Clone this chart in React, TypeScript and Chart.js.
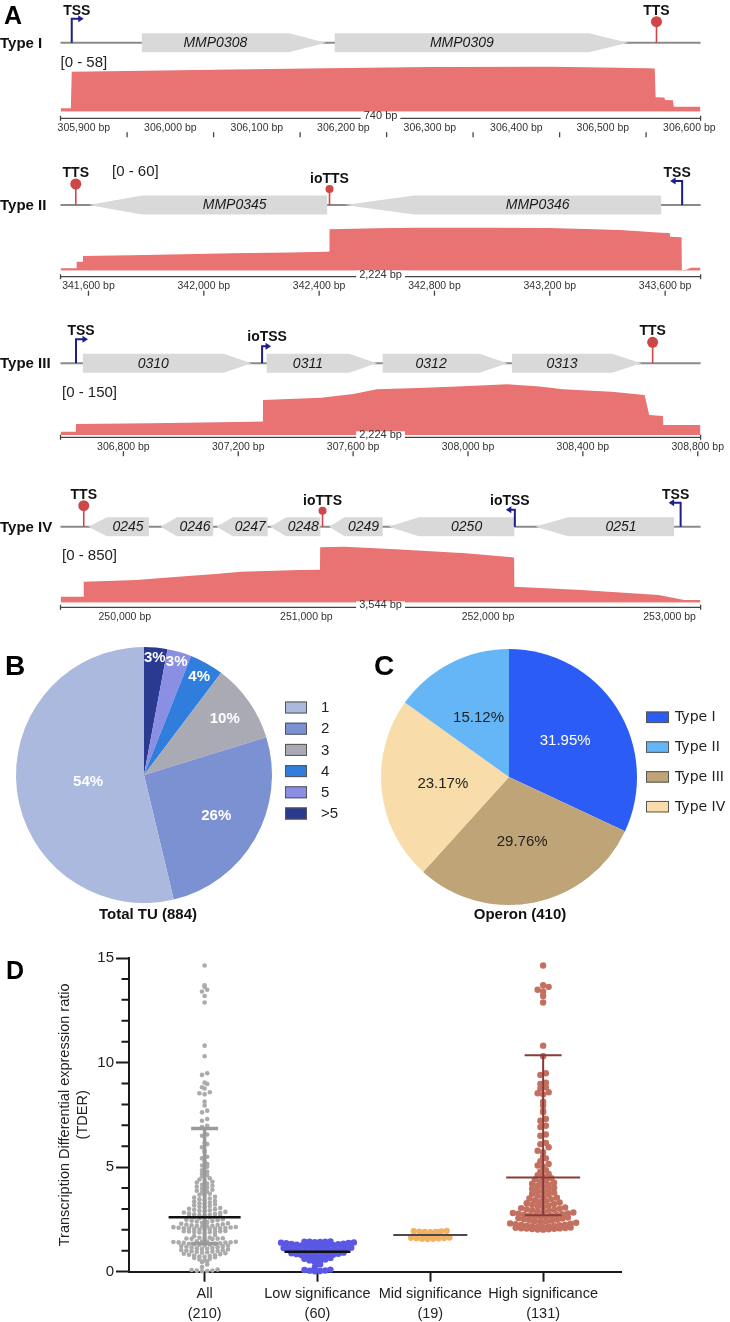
import React, { useEffect, useRef } from "react";
import { Chart, registerables } from "chart.js";

Chart.register(...registerables);

const SANS = "'Liberation Sans', Arial, Helvetica, sans-serif";
const WIDE = "'DejaVu Sans', Verdana, sans-serif";

// ================= Panel A: genome tracks =================
// Type I
const t1Window = [305873, 306613];
const t1DataMax = 58;
const t1CovPos = [305873, 305885, 305886, 305950, 306050, 306180, 306300, 306440, 306500, 306551, 306560, 306561, 306571, 306572, 306581, 306582, 306613];
const t1CovVal = [4, 4, 46.7, 47.4, 49.0, 50.6, 52.3, 52.5, 51.6, 50.6, 50.4, 16.8, 16.5, 13.7, 13.5, 5.8, 5.8];
const t1GeneNames = ["MMP0308", "MMP0309"];
const t1GeneStart = [305967, 306190];
const t1GeneEnd = [306180, 306529];
const t1GeneHead = [43, 45];
const t1GeneStrand = [1, 1];
const t1SiteNames = ["TSS", "TTS"];
const t1SitePos = [305886, 306562];
const t1SiteDir = [1, 1];
const t1RulerLabels = [305900, 306000, 306100, 306200, 306300, 306400, 306500, 306600];
const t1RulerTicks = [305950, 306050, 306150, 306250, 306350, 306450, 306550];
const t1Span = "740 bp";

// Type II
const t2Window = [341503, 343723];
const t2DataMax = 60;
const t2CovPos = [341503, 341558, 341559, 341580, 341581, 341800, 342101, 342300, 342424, 342435, 342436, 342600, 342730, 343000, 343198, 343444, 343586, 343616, 343617, 343657, 343658, 343670, 343690, 343723];
const t2CovVal = [2.8, 2.8, 10.6, 10.6, 17.4, 18.5, 20.6, 21.5, 22.5, 22.6, 49.0, 50.3, 50.9, 50.9, 50.5, 48.2, 45.0, 44.5, 40.2, 39.5, 0.8, 0.8, 3.5, 3.5];
const t2GeneNames = ["MMP0345", "MMP0346"];
const t2GeneStart = [341600, 342488];
const t2GeneEnd = [342428, 343586];
const t2GeneHead = [186, 242];
const t2GeneStrand = [-1, -1];
const t2SiteNames = ["TTS", "ioTTS", "TSS"];
const t2SitePos = [341556, 342436, 343659];
const t2SiteDir = [1, 1, -1];
const t2RulerLabels = [341600, 342000, 342400, 342800, 343200, 343600];
const t2RulerTicks = [341600, 342000, 342400, 342800, 343200, 343600];
const t2Span = "2,224 bp";

// Type III
const t3Window = [306581, 308810];
const t3DataMax = 150;
const t3CovPos = [306581, 306634, 306635, 306900, 307246, 307285, 307286, 307400, 307488, 307600, 307683, 307850, 308005, 308136, 308250, 308330, 308500, 308615, 308631, 308679, 308680, 308810];
const t3CovVal = [9, 9, 30, 32, 36.3, 36.5, 95.5, 99, 101.7, 112, 124.6, 129, 133.6, 138.3, 132, 124.6, 118, 109, 54.5, 52, 27.3, 27.3];
const t3GeneNames = ["0310", "0311", "0312", "0313"];
const t3GeneStart = [306659, 307299, 307703, 308153];
const t3GeneEnd = [307246, 307683, 308137, 308604];
const t3GeneHead = [97, 97, 97, 102];
const t3GeneStrand = [1, 1, 1, 1];
const t3SiteNames = ["TSS", "ioTSS", "TTS"];
const t3SitePos = [306635, 307283, 308643];
const t3SiteDir = [1, 1, 1];
const t3RulerLabels = [306800, 307200, 307600, 308000, 308400, 308800];
const t3RulerTicks = [306800, 307200, 307600, 308000, 308400, 308800];
const t3Span = "2,224 bp";

// Type IV
const t4Window = [249646, 253171];
const t4DataMax = 850;
const t4CovPos = [249646, 249773, 249774, 250064, 250294, 250500, 250640, 250958, 251075, 251076, 251210, 251490, 251877, 252133, 252144, 252145, 252515, 252940, 253080, 253171];
const t4CovVal = [81, 81, 285, 308, 352, 389, 420, 443, 445, 751, 759, 724, 670, 615, 610, 217, 172, 104, 37, 37];
const t4GeneNames = ["0245", "0246", "0247", "0248", "0249", "0250", "0251"];
const t4GeneStart = [249800, 250197, 250505, 250800, 251126, 251453, 252261];
const t4GeneEnd = [250133, 250487, 250787, 251077, 251420, 252145, 253025];
const t4GeneHead = [102, 90, 90, 89, 84, 167, 180];
const t4GeneStrand = [-1, -1, -1, -1, -1, -1, -1];
const t4SiteNames = ["TTS", "ioTTS", "ioTSS", "TSS"];
const t4SitePos = [249774, 251089, 252148, 253061];
const t4SiteDir = [1, 1, -1, -1];
const t4RulerLabels = [250000, 251000, 252000, 253000];
const t4RulerTicks: number[] = [];
const t4Span = "3,544 bp";

const trackTitles = ["Type I", "Type II", "Type III", "Type IV"];

// ================= Panel B =================
const tuLabels = ["1", "2", "3", "4", "5", ">5"];
const tuCounts = [475, 230, 88, 38, 27, 26];
const tuTitle = "Total TU (884)";

// ================= Panel C =================
const opLabels = ["Type I", "Type II", "Type III", "Type IV"];
const opCounts = [131, 62, 122, 95];
const opDrawOrder = [0, 2, 3, 1];
const opTitle = "Operon (410)";

// ================= Panel D =================
const groupNames = ["All", "Low significance", "Mid significance", "High significance"];
const groupCounts = [210, 60, 19, 131];
const lowValues = [
  1.40, 1.41, 1.42, 1.43, 1.44, 1.44, 1.45,
  1.17, 1.19, 1.21, 1.23, 1.24, 1.26, 1.28, 1.29, 1.31, 1.33, 1.34, 1.36, 1.38, 1.39,
  0.93, 0.95, 0.96, 0.98, 0.99, 1.01, 1.03, 1.04, 1.06, 1.08, 1.10, 1.12, 1.13, 1.15,
  0.69, 0.71, 0.73, 0.75, 0.77, 0.79, 0.81, 0.84, 0.86, 0.88, 0.91,
  0.46, 0.50, 0.54, 0.58, 0.62, 0.66,
  0.22, 0.35,
  0.02, 0.03, 0.05, 0.06, 0.08, 0.10,
];
const midValues = [1.95, 1.94, 1.93, 1.92, 1.91, 1.90, 1.89, 1.88, 1.80, 1.76, 1.70, 1.63, 1.62, 1.61, 1.60, 1.59, 1.58, 1.57, 1.56];
const highValues = [
  14.64, 13.70, 13.62, 13.48, 13.40, 13.18, 12.87, 10.81, 10.30,
  9.49, 9.41, 9.04, 8.98, 8.82, 8.76, 8.58, 8.53, 8.48, 8.13, 7.95, 7.70, 7.62, 7.30, 7.22,
  6.98, 6.92, 6.56, 6.50, 6.16, 6.10, 5.95, 5.78, 5.72, 5.50, 5.42, 5.28, 5.15, 5.08, 5.02, 4.85, 4.78, 4.68, 4.62, 4.55,
  4.47, 4.41, 4.35, 4.30,
  4.26, 4.21, 4.16, 4.11, 4.06,
  4.02, 3.97, 3.92, 3.87, 3.82,
  3.78, 3.73, 3.68, 3.63, 3.58,
  3.54, 3.50, 3.46, 3.42, 3.38, 3.34,
  3.31, 3.27, 3.24, 3.21, 3.17, 3.14, 3.10,
  3.07, 3.04, 3.01, 2.99, 2.96, 2.94, 2.91, 2.89, 2.86,
  2.83, 2.81, 2.79, 2.77, 2.75, 2.73, 2.71, 2.69, 2.67, 2.65, 2.63, 2.61,
  2.59, 2.56, 2.54, 2.51, 2.49, 2.46, 2.44, 2.42, 2.40, 2.37,
  2.34, 2.31, 2.29, 2.27, 2.25, 2.23, 2.22, 2.20, 2.19, 2.17, 2.16, 2.14, 2.13,
  2.11, 2.10, 2.09, 2.08, 2.07, 2.06, 2.05, 2.04, 2.03, 2.02, 2.01,
];
const allValues = [...lowValues, ...midValues, ...highValues];
const groupCenter = [2.6, 0.95, 1.75, 4.5];
const groupLow: (number | null)[] = [1.35, null, null, 2.7];
const groupHigh: (number | null)[] = [6.85, null, null, 10.35];
const yMajorTicks = [0, 5, 10, 15];
const yMinorTicks = [1, 2, 3, 4, 6, 7, 8, 9, 11, 12, 13, 14];
const yTitleLines = ["Transcription Differential expression ratio", "(TDER)"];

// ================= styles =================
const COV = "#e97272";
const GENE = "#d9d9d9";
const NAVY = "#1d1d8c";
const RED = "#cf4646";
const tuColors = ["#aab9dd", "#7c91d2", "#a9aab4", "#2f7ddc", "#8b8fe4", "#2b3a91"];
const tuLabelRadius = [0.44, 0.65, 0.77, 0.88, 0.92, 0.92];
const opColors = ["#2b5cf6", "#64b6f6", "#bfa477", "#f8dcaa"];
const opTextColors = ["#ffffff", "#222222", "#222222", "#222222"];
const dotColors = ["#ababab", "#5a58e4", "#f2b163", "#c4705f"];
const dotRadius = [2.3, 3.2, 3.1, 3.2];
const rowOrigin = 0.08;
const rowStep = [0.18, 0.24, 0.24, 0.24];
const dotStep = [5.2, 5.2, 5.5, 5.5];
const medianHalf = [36, 33, 37, 37];
const medianColor = ["#111111", "#111111", "#4a4a4a", "#8b3a3a"];
const medianWidth = [2.5, 2.5, 2, 2];
const capHalf = [13.5, 0, 0, 18.5];
const whiskerColor = ["#9a9a9a", "", "", "#8b3a3a"];
const whiskerWidth = [3.5, 0, 0, 2];

type TrackData = {
  title: string; window: number[]; dataMax: number; covPos: number[]; covVal: number[];
  geneNames: string[]; geneStart: number[]; geneEnd: number[]; geneHead: number[]; geneStrand: number[];
  siteNames: string[]; sitePos: number[]; siteDir: number[];
  rulerLabels: number[]; rulerTicks: number[]; span: string;
};
type TrackStyle = { top: number; height: number; areaTop: number; baseline: number; lineY: number; rangeX: number; rangeY: number; rulerY: number; letter?: string };

const TRACKS: TrackData[] = [
  { title: trackTitles[0], window: t1Window, dataMax: t1DataMax, covPos: t1CovPos, covVal: t1CovVal, geneNames: t1GeneNames, geneStart: t1GeneStart, geneEnd: t1GeneEnd, geneHead: t1GeneHead, geneStrand: t1GeneStrand, siteNames: t1SiteNames, sitePos: t1SitePos, siteDir: t1SiteDir, rulerLabels: t1RulerLabels, rulerTicks: t1RulerTicks, span: t1Span },
  { title: trackTitles[1], window: t2Window, dataMax: t2DataMax, covPos: t2CovPos, covVal: t2CovVal, geneNames: t2GeneNames, geneStart: t2GeneStart, geneEnd: t2GeneEnd, geneHead: t2GeneHead, geneStrand: t2GeneStrand, siteNames: t2SiteNames, sitePos: t2SitePos, siteDir: t2SiteDir, rulerLabels: t2RulerLabels, rulerTicks: t2RulerTicks, span: t2Span },
  { title: trackTitles[2], window: t3Window, dataMax: t3DataMax, covPos: t3CovPos, covVal: t3CovVal, geneNames: t3GeneNames, geneStart: t3GeneStart, geneEnd: t3GeneEnd, geneHead: t3GeneHead, geneStrand: t3GeneStrand, siteNames: t3SiteNames, sitePos: t3SitePos, siteDir: t3SiteDir, rulerLabels: t3RulerLabels, rulerTicks: t3RulerTicks, span: t3Span },
  { title: trackTitles[3], window: t4Window, dataMax: t4DataMax, covPos: t4CovPos, covVal: t4CovVal, geneNames: t4GeneNames, geneStart: t4GeneStart, geneEnd: t4GeneEnd, geneHead: t4GeneHead, geneStrand: t4GeneStrand, siteNames: t4SiteNames, sitePos: t4SitePos, siteDir: t4SiteDir, rulerLabels: t4RulerLabels, rulerTicks: t4RulerTicks, span: t4Span },
];

const TRACK_STYLES: TrackStyle[] = [
  { top: 0, height: 145, areaTop: 62, baseline: 111.7, lineY: 42.7, rangeX: 60.5, rangeY: 63, rulerY: 118.3, letter: "A" },
  { top: 145, height: 155, areaTop: 75, baseline: 125.7, lineY: 60, rangeX: 112, rangeY: 26.7, rulerY: 131.7 },
  { top: 300, height: 160, areaTop: 80, baseline: 135, lineY: 63.3, rangeX: 62, rangeY: 92.7, rulerY: 137.3 },
  { top: 460, height: 165, areaTop: 80, baseline: 142.7, lineY: 66.7, rangeX: 62, rangeY: 96, rulerY: 147.3 },
];

const fmtBp = (v: number) => String(v).replace(/\B(?=(\d{3})+(?!\d))/g, ",") + " bp";

function trackDecor(def: TrackData, st: TrackStyle) {
  return {
    id: "trackDecor",
    afterDraw(chart: any) {
      const ctx: CanvasRenderingContext2D = chart.ctx;
      const xs = chart.scales.x;
      const X = (v: number) => xs.getPixelForValue(v);
      const { left, right } = chart.chartArea;
      const ly = st.lineY;
      ctx.save();
      if (st.letter) {
        ctx.font = `bold 25px ${SANS}`;
        ctx.fillStyle = "#000";
        ctx.textAlign = "left";
        ctx.textBaseline = "alphabetic";
        ctx.fillText(st.letter, 4, 23.5);
      }
      ctx.font = `bold 15px ${SANS}`;
      ctx.fillStyle = "#111";
      ctx.textAlign = "left";
      ctx.textBaseline = "middle";
      ctx.fillText(def.title, 0, ly + 1);
      ctx.strokeStyle = "#8a8a8a";
      ctx.lineWidth = 2;
      ctx.beginPath();
      ctx.moveTo(left, ly);
      ctx.lineTo(right, ly);
      ctx.stroke();
      const h = 9.5;
      def.geneNames.forEach((name, i) => {
        const x1 = X(def.geneStart[i]);
        const x2 = X(def.geneEnd[i]);
        const hd = Math.abs(X(def.geneStart[i] + def.geneHead[i]) - x1);
        ctx.fillStyle = GENE;
        ctx.beginPath();
        let cx;
        if (def.geneStrand[i] > 0) {
          ctx.moveTo(x1, ly - h);
          ctx.lineTo(x2 - hd, ly - h);
          ctx.lineTo(x2, ly);
          ctx.lineTo(x2 - hd, ly + h);
          ctx.lineTo(x1, ly + h);
          cx = (x1 + x2 - hd) / 2;
        } else {
          ctx.moveTo(x2, ly - h);
          ctx.lineTo(x1 + hd, ly - h);
          ctx.lineTo(x1, ly);
          ctx.lineTo(x1 + hd, ly + h);
          ctx.lineTo(x2, ly + h);
          cx = (x1 + hd + x2) / 2;
        }
        ctx.closePath();
        ctx.fill();
        ctx.fillStyle = "#1a1a1a";
        ctx.font = `italic 14px ${SANS}`;
        ctx.textAlign = "center";
        ctx.textBaseline = "middle";
        ctx.fillText(name, cx, ly + 0.5);
      });
      def.siteNames.forEach((name, i) => {
        const x = X(def.sitePos[i]);
        const io = name.startsWith("io");
        const isTSS = name.endsWith("TSS");
        const dir = def.siteDir[i];
        if (isTSS) {
          const sh = io ? 17 : 24;
          const len = io ? 9 : 12;
          ctx.strokeStyle = NAVY;
          ctx.fillStyle = NAVY;
          ctx.lineWidth = 2;
          ctx.beginPath();
          ctx.moveTo(x, ly);
          ctx.lineTo(x, ly - sh);
          ctx.lineTo(x + dir * (len - 4), ly - sh);
          ctx.stroke();
          ctx.beginPath();
          ctx.moveTo(x + dir * len, ly - sh);
          ctx.lineTo(x + dir * (len - 5.5), ly - sh - 3.5);
          ctx.lineTo(x + dir * (len - 5.5), ly - sh + 3.5);
          ctx.closePath();
          ctx.fill();
        } else {
          const sh = io ? 16 : 21;
          const r = io ? 4 : 5.5;
          ctx.strokeStyle = RED;
          ctx.fillStyle = RED;
          ctx.lineWidth = 1.6;
          ctx.beginPath();
          ctx.moveTo(x, ly);
          ctx.lineTo(x, ly - sh);
          ctx.stroke();
          ctx.beginPath();
          ctx.arc(x, ly - sh, r, 0, Math.PI * 2);
          ctx.fill();
        }
        ctx.fillStyle = "#111";
        ctx.font = `bold 14px ${SANS}`;
        ctx.textAlign = "center";
        ctx.textBaseline = "middle";
        ctx.fillText(name, x + (isTSS ? dir * 5 : 0), ly - (io ? 26 : 32));
      });
      ctx.fillStyle = "#222";
      ctx.font = `15px ${SANS}`;
      ctx.textAlign = "left";
      ctx.textBaseline = "middle";
      ctx.fillText(`[0 - ${def.dataMax}]`, st.rangeX, st.rangeY);
      const ry = st.rulerY;
      ctx.strokeStyle = "#444";
      ctx.lineWidth = 1.3;
      ctx.beginPath();
      ctx.moveTo(left, ry);
      ctx.lineTo(right, ry);
      ctx.moveTo(left, ry - 2.5);
      ctx.lineTo(left, ry + 2.5);
      ctx.moveTo(right, ry - 2.5);
      ctx.lineTo(right, ry + 2.5);
      ctx.stroke();
      ctx.font = `11px ${SANS}`;
      const mid = (left + right) / 2;
      const w = ctx.measureText(def.span).width + 6;
      ctx.fillStyle = "#fff";
      ctx.fillRect(mid - w / 2, ry - 6, w, 12);
      ctx.fillStyle = "#333";
      ctx.textAlign = "center";
      ctx.fillText(def.span, mid, ry - 2);
      ctx.font = `10.5px ${SANS}`;
      def.rulerLabels.forEach((v) => {
        ctx.fillText(fmtBp(v), X(v), ry + 9.5);
      });
      ctx.beginPath();
      def.rulerTicks.forEach((v) => {
        const x = X(v);
        ctx.moveTo(x, ry + 14);
        ctx.lineTo(x, ry + 19);
      });
      ctx.stroke();
      ctx.restore();
    },
  };
}

function makeTrack(canvas: HTMLCanvasElement, def: TrackData, st: TrackStyle) {
  const pts = def.covPos.map((p, i) => ({ x: p, y: def.covVal[i] }));
  return new Chart(canvas, {
    type: "line",
    data: {
      datasets: [
        { data: pts, fill: "origin", backgroundColor: COV, borderColor: COV, borderWidth: 0, pointRadius: 0, tension: 0 },
      ],
    },
    options: {
      responsive: false,
      animation: false,
      devicePixelRatio: 1,
      events: [],
      layout: { padding: { left: 60.5, right: 29.4, top: st.areaTop, bottom: st.height - st.baseline } },
      scales: {
        x: { type: "linear", min: def.window[0], max: def.window[1], display: false },
        y: { type: "linear", min: 0, max: def.dataMax, display: false },
      },
      plugins: { legend: { display: false }, tooltip: { enabled: false } },
    },
    plugins: [trackDecor(def, st)],
  } as any);
}

function pieDecor(opts: {
  letter: string; letterX: number; labels: string[]; colors: string[]; valueText: string[]; textColors: string[];
  labelRadius: number[]; order: number[]; bold: boolean; title: string; titleX: number;
  legendX: number; legendY0: number; legendStep: number; boxW: number; boxH: number; legendTextX: number; legendFont: string;
}) {
  return {
    id: "pieDecor",
    afterDatasetsDraw(chart: any) {
      const ctx: CanvasRenderingContext2D = chart.ctx;
      const meta = chart.getDatasetMeta(0);
      ctx.save();
      ctx.textAlign = "center";
      ctx.textBaseline = "middle";
      ctx.font = `${opts.bold ? "bold " : ""}15px ${SANS}`;
      meta.data.forEach((arc: any, k: number) => {
        const i = opts.order[k];
        const p = arc.getProps(["x", "y", "startAngle", "endAngle", "outerRadius"], true);
        const m = (p.startAngle + p.endAngle) / 2;
        const r = p.outerRadius * opts.labelRadius[i];
        ctx.fillStyle = opts.textColors[i];
        ctx.fillText(opts.valueText[i], p.x + Math.cos(m) * r, p.y + Math.sin(m) * r);
      });
      ctx.restore();
    },
    afterDraw(chart: any) {
      const ctx: CanvasRenderingContext2D = chart.ctx;
      ctx.save();
      ctx.fillStyle = "#000";
      ctx.font = `bold 28px ${SANS}`;
      ctx.textAlign = "left";
      ctx.textBaseline = "alphabetic";
      ctx.fillText(opts.letter, opts.letterX, 35);
      opts.labels.forEach((lab, i) => {
        const cy = opts.legendY0 + i * opts.legendStep;
        ctx.fillStyle = opts.colors[i];
        ctx.fillRect(opts.legendX, cy - opts.boxH / 2, opts.boxW, opts.boxH);
        ctx.strokeStyle = "#555";
        ctx.lineWidth = 1;
        ctx.strokeRect(opts.legendX + 0.5, cy - opts.boxH / 2 + 0.5, opts.boxW - 1, opts.boxH - 1);
        ctx.fillStyle = "#222";
        ctx.font = opts.legendFont;
        ctx.textBaseline = "middle";
        ctx.fillText(lab, opts.legendTextX, cy + 0.5);
      });
      ctx.font = `bold 15px ${SANS}`;
      ctx.fillStyle = "#111";
      ctx.textAlign = "center";
      ctx.fillText(opts.title, opts.titleX, 275);
      ctx.restore();
    },
  };
}

function makePie(canvas: HTMLCanvasElement, values: number[], colors: string[], order: number[], padTop: number, plugin: any) {
  return new Chart(canvas, {
    type: "pie",
    data: {
      labels: order.map((i) => String(i)),
      datasets: [{ data: order.map((i) => values[i]), backgroundColor: order.map((i) => colors[i]), borderWidth: 0, hoverOffset: 0, offset: 0 }],
    },
    options: {
      responsive: false,
      animation: false,
      devicePixelRatio: 1,
      events: [],
      radius: 128,
      layout: { padding: { left: 16, right: 93, top: padTop, bottom: 290 - padTop - 256 } },
      plugins: { legend: { display: false }, tooltip: { enabled: false } },
    },
    plugins: [plugin],
  } as any);
}

function makePieB(canvas: HTMLCanvasElement) {
  const total = tuCounts.reduce((a, b) => a + b, 0);
  const order = tuLabels.map((_, i) => tuLabels.length - 1 - i);
  const plugin = pieDecor({
    letter: "B", letterX: 5, labels: tuLabels, colors: tuColors,
    valueText: tuCounts.map((v) => Math.round((v / total) * 100) + "%"),
    textColors: tuLabels.map(() => "#ffffff"), labelRadius: tuLabelRadius, order, bold: true,
    title: tuTitle, titleX: 148, legendX: 285, legendY0: 67.5, legendStep: 21.2, boxW: 22, boxH: 12,
    legendTextX: 321, legendFont: `15px ${SANS}`,
  });
  return makePie(canvas, tuCounts, tuColors, order, 7, plugin);
}

function makePieC(canvas: HTMLCanvasElement) {
  const total = opCounts.reduce((a, b) => a + b, 0);
  const plugin = pieDecor({
    letter: "C", letterX: 9, labels: opLabels, colors: opColors,
    valueText: opCounts.map((v) => ((v / total) * 100).toFixed(2) + "%"),
    textColors: opTextColors, labelRadius: opLabels.map(() => 0.52), order: opDrawOrder, bold: false,
    title: opTitle, titleX: 155, legendX: 281, legendY0: 77.3, legendStep: 29.8, boxW: 23, boxH: 11.5,
    legendTextX: 310, legendFont: `14px ${WIDE}`,
  });
  return makePie(canvas, opCounts, opColors, opDrawOrder, 9, plugin);
}

// GraphPad-like dot plot: values are grouped into horizontal rows (value bins)
// and spread symmetrically around the group centre.
function rowSwarm(vals: number[], step: number, px: number): number[] {
  const rows = new Map<number, number[]>();
  vals.forEach((v, i) => {
    const r = Math.round((v - rowOrigin) / step);
    if (!rows.has(r)) rows.set(r, []);
    rows.get(r)!.push(i);
  });
  const out = new Array(vals.length).fill(0);
  rows.forEach((idx) => {
    idx.sort((a, b) => vals[a] - vals[b]);
    const n = idx.length;
    const slots: number[] = [];
    for (let k = 0; k < n; k++) slots.push((k - (n - 1) / 2) * px);
    slots.sort((a, b) => Math.abs(a) - Math.abs(b) || a - b);
    idx.forEach((id, k) => {
      out[id] = slots[k];
    });
  });
  return out;
}

const swarmDecor = {
  id: "swarmDecor",
  afterDatasetsDraw(chart: any) {
    const ctx: CanvasRenderingContext2D = chart.ctx;
    const xs = chart.scales.x;
    const ys = chart.scales.y;
    ctx.save();
    groupNames.forEach((_, gi) => {
      const cx = xs.getPixelForValue(gi);
      const lo = groupLow[gi];
      const hi = groupHigh[gi];
      if (lo !== null && hi !== null) {
        const y1 = ys.getPixelForValue(lo);
        const y2 = ys.getPixelForValue(hi);
        ctx.strokeStyle = whiskerColor[gi];
        ctx.lineWidth = whiskerWidth[gi];
        ctx.beginPath();
        ctx.moveTo(cx, y1);
        ctx.lineTo(cx, y2);
        ctx.moveTo(cx - capHalf[gi], y1);
        ctx.lineTo(cx + capHalf[gi], y1);
        ctx.moveTo(cx - capHalf[gi], y2);
        ctx.lineTo(cx + capHalf[gi], y2);
        ctx.stroke();
      }
      const ym = ys.getPixelForValue(groupCenter[gi]);
      ctx.strokeStyle = medianColor[gi];
      ctx.lineWidth = medianWidth[gi];
      ctx.beginPath();
      ctx.moveTo(cx - medianHalf[gi], ym);
      ctx.lineTo(cx + medianHalf[gi], ym);
      ctx.stroke();
    });
    ctx.restore();
  },
  afterDraw(chart: any) {
    const ctx: CanvasRenderingContext2D = chart.ctx;
    const ys = chart.scales.y;
    const left = chart.chartArea.left;
    ctx.save();
    ctx.strokeStyle = "#1a1a1a";
    ctx.lineWidth = 2;
    ctx.beginPath();
    yMinorTicks.forEach((v) => {
      const y = ys.getPixelForValue(v);
      ctx.moveTo(left - 7.5, y);
      ctx.lineTo(left, y);
    });
    ctx.stroke();
    ctx.fillStyle = "#000";
    ctx.font = `bold 25px ${SANS}`;
    ctx.textAlign = "left";
    ctx.textBaseline = "alphabetic";
    ctx.fillText("D", 6, 48.5);
    ctx.restore();
  },
};

function makeSwarm(canvas: HTMLCanvasElement) {
  const groups = [allValues, lowValues, midValues, highValues];
  const chart = new Chart(canvas, {
    type: "scatter",
    data: {
      datasets: groups.map((vals, gi) => ({
        data: vals.map((v) => ({ x: gi, y: v })),
        pointRadius: dotRadius[gi],
        pointBackgroundColor: dotColors[gi],
        pointBorderWidth: 0,
        borderWidth: 0,
        clip: false,
      })),
    },
    options: {
      responsive: false,
      animation: false,
      devicePixelRatio: 1,
      events: [],
      layout: { padding: { left: 56, right: 109, top: 28, bottom: 0 } },
      plugins: { legend: { display: false }, tooltip: { enabled: false } },
      scales: {
        x: {
          type: "linear",
          min: -0.67,
          max: 3.69,
          afterBuildTicks: (s: any) => {
            s.ticks = groupNames.map((_, i) => ({ value: i }));
          },
          afterFit: (s: any) => {
            s.height = 50.3;
          },
          ticks: {
            autoSkip: false,
            maxRotation: 0,
            padding: 3,
            color: "#222",
            font: { family: SANS, size: 14.5, lineHeight: 1.35 },
            callback: (v: any) => [groupNames[v], `(${groupCounts[v]})`],
          },
          grid: { drawOnChartArea: false, drawTicks: true, tickLength: 10, tickWidth: 2, tickColor: "#1a1a1a" },
          border: { display: true, color: "#1a1a1a", width: 2 },
        },
        y: {
          type: "linear",
          min: 0,
          max: 15,
          afterBuildTicks: (s: any) => {
            s.ticks = yMajorTicks.map((v) => ({ value: v }));
          },
          afterFit: (s: any) => {
            s.width = 73;
          },
          ticks: { padding: 2, color: "#222", font: { family: SANS, size: 15 } },
          grid: { drawOnChartArea: false, drawTicks: true, tickLength: 13, tickWidth: 2, tickColor: "#1a1a1a" },
          border: { display: true, color: "#1a1a1a", width: 2 },
          title: {
            display: true,
            text: yTitleLines,
            color: "#222",
            font: { family: SANS, size: 14.5, lineHeight: 1.262 },
            padding: { top: 0, bottom: 0 },
          },
        },
      },
    },
    plugins: [swarmDecor],
  } as any);
  const xs: any = chart.scales.x;
  const ppu = xs.getPixelForValue(1) - xs.getPixelForValue(0);
  groups.forEach((vals, gi) => {
    const off = rowSwarm(vals, rowStep[gi], dotStep[gi]);
    (chart.data.datasets[gi] as any).data = vals.map((v, k) => ({ x: gi + off[k] / ppu, y: v }));
  });
  chart.update();
  return chart;
}

function ChartCanvas({ left, top, width, height, build }: { left: number; top: number; width: number; height: number; build: (c: HTMLCanvasElement) => Chart }) {
  const ref = useRef<HTMLCanvasElement | null>(null);
  useEffect(() => {
    if (!ref.current) return;
    const chart = build(ref.current);
    return () => chart.destroy();
  }, []);
  return (
    <div style={{ position: "absolute", left, top, width, height }}>
      <canvas ref={ref} width={width} height={height} style={{ width, height, display: "block" }} />
    </div>
  );
}

export default function App() {
  return (
    <div style={{ position: "absolute", left: 0, top: 0, width: 730, height: 1322, background: "#fff", overflow: "hidden" }}>
      {TRACKS.map((t, i) => (
        <ChartCanvas key={i} left={0} top={TRACK_STYLES[i].top} width={730} height={TRACK_STYLES[i].height} build={(c) => makeTrack(c, t, TRACK_STYLES[i])} />
      ))}
      <ChartCanvas left={0} top={640} width={365} height={290} build={makePieB} />
      <ChartCanvas left={365} top={640} width={365} height={290} build={makePieC} />
      <ChartCanvas left={0} top={930} width={730} height={392} build={makeSwarm} />
    </div>
  );
}
